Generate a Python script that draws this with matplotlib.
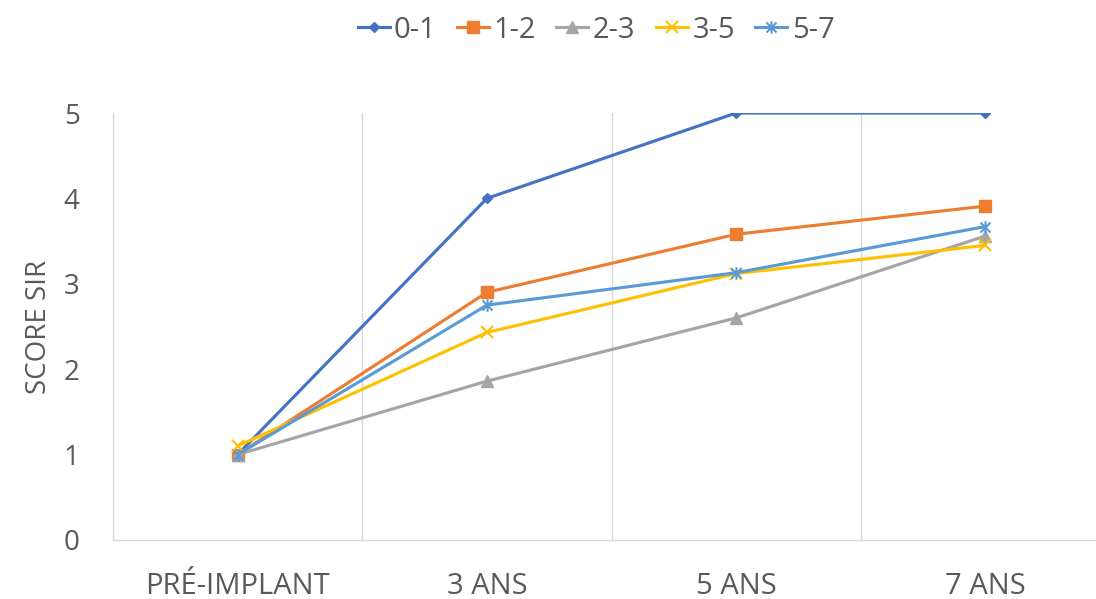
import matplotlib
matplotlib.use("Agg")
import matplotlib.pyplot as plt
from matplotlib.path import Path

categories = ["PRÉ-IMPLANT", "3 ANS", "5 ANS", "7 ANS"]
series_names = ["0-1", "1-2", "2-3", "3-5", "5-7"]
s_0_1 = [1.0, 4.0, 5.0, 5.0]
s_1_2 = [1.0, 2.9, 3.58, 3.91]
s_2_3 = [1.0, 1.86, 2.6, 3.56]
s_3_5 = [1.1, 2.43, 3.12, 3.45]
s_5_7 = [1.0, 2.75, 3.13, 3.67]
y_ticks = [0, 1, 2, 3, 4, 5]

plt.rcParams['font.family'] = ['Open Sans', 'DejaVu Sans']
text_color = "#595959"
grid_color = "#D9D9D9"

star = Path([(0, -1), (0, 1), (-0.8, -0.8), (0.8, 0.8), (-0.8, 0.8), (0.8, -0.8)],
            [Path.MOVETO, Path.LINETO, Path.MOVETO, Path.LINETO, Path.MOVETO, Path.LINETO])

styles = [
    dict(color="#4472C4", marker="D", ms=5),
    dict(color="#ED7D31", marker="s", ms=8),
    dict(color="#A5A5A5", marker="^", ms=8),
    dict(color="#FFC000", marker="x", ms=8, mew=1.5),
    dict(color="#5B9BD5", marker=star, ms=9, mew=1.5),
]
data = [s_0_1, s_1_2, s_2_3, s_3_5, s_5_7]

fig = plt.figure(figsize=(10.96, 5.99), dpi=100)
ax = fig.add_axes([113/1096, 1-540/599, (1110-113)/1096, (540-113)/599])

x = list(range(len(categories)))
for name, vals, st in zip(series_names, data, styles):
    ax.plot(x, vals, label=name, lw=2.25, color=st["color"], marker=st["marker"],
            markersize=st["ms"], markeredgewidth=st.get("mew", 1), zorder=3)

ax.set_xlim(-0.5, len(categories) - 0.5)
ax.set_ylim(0, 5)
ax.set_yticks(y_ticks)
ax.set_xticks(x)
ax.set_xticklabels(categories)
for b in [0.5, 1.5, 2.5]:
    ax.axvline(b, color=grid_color, lw=1, zorder=1)
for side in ["top", "right"]:
    ax.spines[side].set_visible(False)
for side in ["left", "bottom"]:
    ax.spines[side].set_color(grid_color)
    ax.spines[side].set_linewidth(1)
ax.tick_params(axis="both", length=0, labelsize=20, colors=text_color)
ax.tick_params(axis="x", labelsize=21, pad=23)
ax.tick_params(axis="y", pad=24)
ax.set_ylabel("SCORE SIR", fontsize=20, color=text_color, labelpad=8)

fig.legend(loc="center", bbox_to_anchor=(596/1096, 1-30/599), ncol=5, frameon=False,
           fontsize=21, labelcolor=text_color, handlelength=1.1, handletextpad=0.15,
           columnspacing=0.7)

fig.savefig("out.png", dpi=100)
